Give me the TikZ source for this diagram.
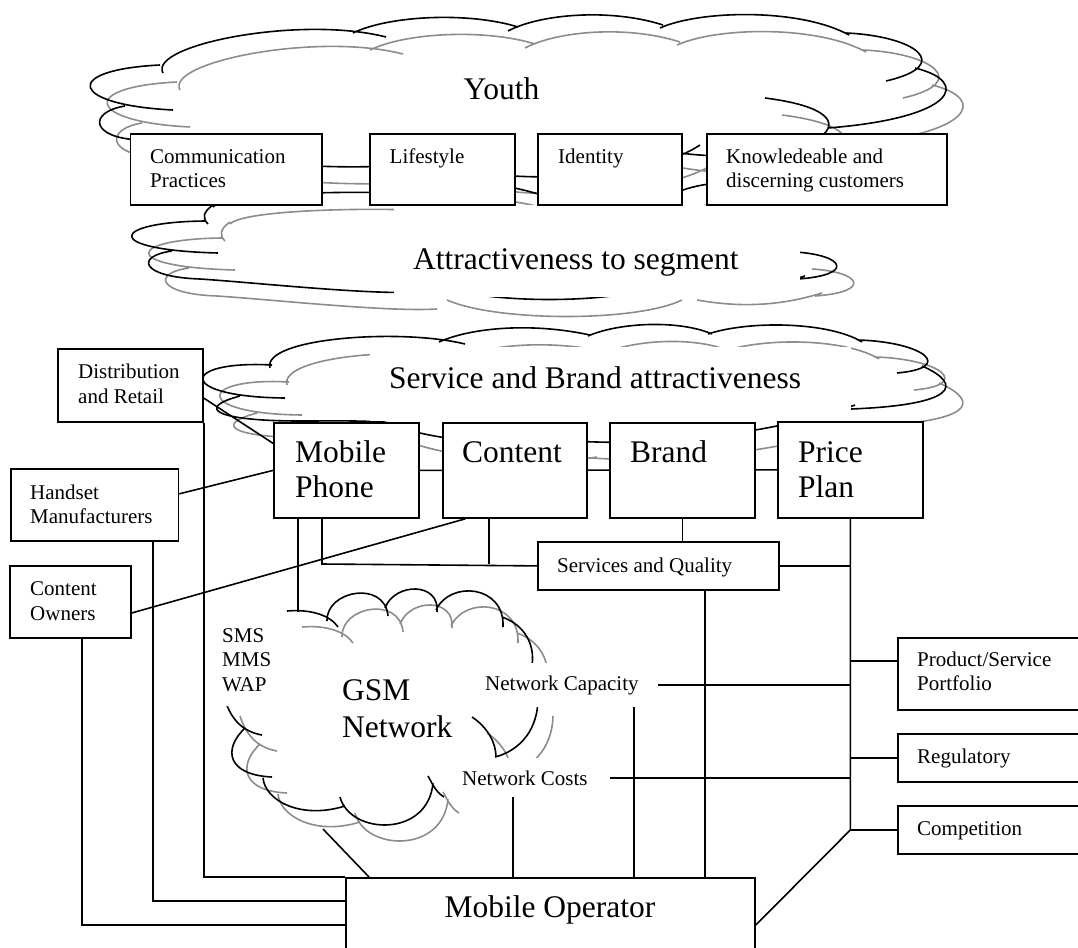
\documentclass[tikz,border=0pt]{standalone}
\usepackage{fontspec}
\setmainfont{Liberation Serif}
\usetikzlibrary{calc}

\tikzset{
  box/.style={draw, line width=1.8pt, fill=white, inner sep=0pt, anchor=north west},
  sm/.style={font=\fontsize{21}{24}\selectfont, anchor=base west, inner sep=0pt},
  big/.style={font=\fontsize{31.5}{35}\selectfont, anchor=base west, inner sep=0pt},
  link/.style={line width=1.6pt},
  cloudk/.style={line width=1.6pt, draw=black},
  cloudg/.style={line width=1.6pt, draw=black!45},
}

% box from top-left (#2,#3) to bottom-right (#4,#5)
\newcommand\mkbox[5]{\node[box, minimum width={#4-#2}, minimum height={#5-#3}] (#1) at (#2,#3) {};}

% cloud outlines, each as a set of bumps
\newcommand\youthcloud{
  (163,73) .. controls (148,45) and (300,15) .. (386,37)
  (353,33) .. controls (390,15) and (470,12) .. (518,27)
  (508,31) .. controls (540,14) and (610,8) .. (663,25)
  (660,28) .. controls (700,10) and (800,8) .. (849,35)
  (846,33) .. controls (915,36) and (955,65) .. (886,81)
  (915,68) .. controls (972,82) and (955,118) .. (828,128)
  (765,98) .. controls (900,115) and (800,175) .. (660,150)
  (700,145) .. controls (640,185) and (480,185) .. (420,158)
  (440,162) .. controls (330,175) and (200,160) .. (135,138)
  (125,106) .. controls (88,112) and (90,138) .. (140,140)
  (160,65) .. controls (60,70) and (70,105) .. (173,110)
}
\newcommand\attrcloud{
  (213,205) .. controls (203,212) and (202,218) .. (208,224)
  (205,221) .. controls (110,222) and (100,250) .. (218,253)
  (172,251) .. controls (135,256) and (140,277) .. (200,279)
            .. controls (260,283) and (370,295) .. (420,292)
  (665,283) .. controls (620,305) and (480,305) .. (430,283)
  (805,276) .. controls (760,290) and (720,290) .. (680,283)
  (795,252) .. controls (845,255) and (855,275) .. (798,279)
  (665,198) .. controls (700,178) and (770,172) .. (780,220)
  (400,200) .. controls (430,178) and (480,176) .. (545,196)
  (213,207) .. controls (230,190) and (400,190) .. (440,196)
}
\newcommand\servcloud{
  (270,368) .. controls (262,338) and (400,328) .. (465,344)
  (439,342) .. controls (470,328) and (530,322) .. (590,335)
  (588,336) .. controls (620,322) and (680,320) .. (712,334)
  (708,334) .. controls (750,320) and (830,322) .. (862,342)
  (858,340) .. controls (925,342) and (955,368) .. (897,373)
  (922,366) .. controls (965,385) and (955,405) .. (851,409)
  (855,405) .. controls (800,425) and (680,450) .. (560,440)
  (580,440) .. controls (520,450) and (420,440) .. (380,420)
  (240,396) .. controls (195,408) and (215,421) .. (300,421)
            .. controls (340,421) and (370,420) .. (400,424)
  (285,398) .. controls (175,397) and (180,360) .. (272,365)
}
\newcommand\gsmcloud{
  (287,611) .. controls (310,609) and (330,615) .. (338,627)
  (327,621) .. controls (326,590) and (385,580) .. (388,616)
  (385,608) .. controls (395,582) and (440,582) .. (437,612)
  (436,610) .. controls (450,580) and (505,585) .. (503,627)
  (502,617) .. controls (525,625) and (535,645) .. (532,665)
  (538,700) .. controls (537,735) and (515,752) .. (495,757)
  (472,717) .. controls (487,727) and (496,742) .. (496,757)
  (428,776) .. controls (433,785) and (436,792) .. (444,797)
  (340,797) .. controls (350,835) and (428,838) .. (433,783)
  (263,778) .. controls (265,800) and (300,820) .. (345,806)
  (245,728) .. controls (222,750) and (228,775) .. (272,777)
  (225,700) .. controls (232,722) and (245,732) .. (262,735)
}

\begin{document}
\begin{tikzpicture}[x=1pt,y=-1pt]
\useasboundingbox (0,0) rectangle (1078,947);
\clip (0,0) rectangle (1078,947);

% clouds: grey shadow first, then the black outline
\draw[cloudg, shift={(17,17)}] \youthcloud;
\draw[cloudk] \youthcloud;
\draw[cloudg, shift={(17,17)}] \attrcloud;
\draw[cloudk] \attrcloud;
\draw[cloudg, shift={(17,17)}] \servcloud;
\draw[cloudk] \servcloud;
\draw[cloudg, shift={(15,16)}] \gsmcloud;
\draw[cloudk] \gsmcloud;

% text areas of the clouds
\fill[white] (394,205) rectangle (800,297);
\fill[white] (370,347) rectangle (851,421);
\fill[white] (212,612) rectangle (296,706);

% boxes
\mkbox{comm}{129.5}{133}{321}{204}
\mkbox{life}{369}{133}{514}{204}
\mkbox{ident}{537}{133}{681}{204}
\mkbox{know}{706}{133}{946}{204}
\mkbox{dist}{57}{348}{202}{421}
\mkbox{hand}{10}{468}{177.5}{540}
\mkbox{mphone}{273}{422}{418}{517}
\mkbox{content}{442}{422}{586}{517}
\mkbox{brand}{609}{422}{754}{517}
\mkbox{price}{777}{421}{922}{517}
\mkbox{sq}{537}{541}{778}{589}
\mkbox{cowners}{9}{565}{130}{637}
\mkbox{prod}{897}{637}{1090}{709}
\mkbox{reg}{897}{733}{1090}{781}
\mkbox{comp}{897}{805}{1090}{853}
\mkbox{mop}{345}{877}{754}{970}

% labels inside the GSM cloud (white behind them)
\node[sm, fill=white, inner xsep=6pt, inner ysep=12pt] (netcap) at (479,690) {Network Capacity};
\node[sm, fill=white, inner xsep=6pt, inner ysep=12pt] (netcost) at (456,785) {Network Costs};

% connectors
\coordinate (xHand) at (153,901);
\coordinate (xCO) at (82,925);
\coordinate (xGT) at (298,612);
\coordinate (xMS) at (322,564);
\coordinate (xCS) at (489,564);
\coordinate (xNC) at (634,0);
\coordinate (xSQ) at (705,0);
\coordinate (xNK) at (513,0);
\coordinate (xGB) at (369,0);
\coordinate (gsmBot) at (323,829);
\coordinate (pp) at (897,661);

\draw[link] (dist.south east) |- (mop.north west);
\draw[link] (hand.south -| xHand) -- (xHand) -- (xHand -| mop.west);
\draw[link] (cowners.south -| xCO) -- (xCO) -- (xCO -| mop.west);
\draw[link] ($(dist.north east)!0.67!(dist.south east)$) -- ($(mphone.north west)!0.22!(mphone.south west)$);
\draw[link] ($(hand.north east)!0.35!(hand.south east)$) -- (mphone.west);
\draw[link] (mphone.south -| xGT) -- (xGT);
\draw[link] (mphone.south -| xMS) -- (xMS) -- (sq.west);
\draw[link] (content.south -| xCS) -- (xCS);
\draw[link] ($(content.south west)!0.16!(content.south east)$) -- ($(cowners.north east)!0.65!(cowners.south east)$);
\draw[link] (brand.south) -- (brand.south |- sq.north);
\draw[link] (sq.east) -- (sq.east -| price.south);
\draw[link] (price.south) -- (comp.west -| price.south) -- ($(mop.north east)+(0,48)$);
\draw[link] (comp.west -| price.south) -- (comp.west);
\draw[link] (reg.west -| price.south) -- (reg.west);
\draw[link] (pp -| price.south) -- (pp);
\draw[link] ([xshift=13pt]netcap.east) -- (netcap.east -| price.south);
\draw[link] (netcap.south -| xNC) -- (xNC |- mop.north);
\draw[link] ([xshift=16pt]netcost.east) -- (netcost.east -| price.south);
\draw[link] (netcost.south -| xNK) -- (xNK |- mop.north);
\draw[link] (sq.south -| xSQ) -- (xSQ |- mop.north);
\draw[link] (gsmBot) -- (xGB |- mop.north);

% link running behind the second row of boxes
\begin{scope}
\clip (418,0) rectangle (442,947) (586,0) rectangle (609,947) (754,0) rectangle (777,947);
\draw[link] (mphone.east) -- (price.west);
\end{scope}

% texts
\node[big] (youthT) at (463.5,100) {Youth};
\node[sm] (commA) at (150,163) {Communication};
\node[sm] (commB) at (150,187) {Practices};
\node[sm] (lifeT) at (389.5,163) {Lifestyle};
\node[sm] (identT) at (558,163) {Identity};
\node[sm] (knowA) at (726,163) {Knowledeable and};
\node[sm] (knowB) at (726,187) {discerning customers};
\node[big] (attrT) at (413,269) {Attractiveness to segment};
\node[big] (servT) at (389,388) {Service and Brand attractiveness};
\node[sm] (distA) at (78,378) {Distribution};
\node[sm] (distB) at (78,403) {and Retail};
\node[sm] (handA) at (30,499) {Handset};
\node[sm] (handB) at (30,523) {Manufacturers};
\node[big] (mphA) at (295,462) {Mobile};
\node[big] (mphB) at (295,497) {Phone};
\node[big] (contT) at (462,462) {Content};
\node[big] (brandT) at (630,462) {Brand};
\node[big] (priceA) at (798,462) {Price};
\node[big] (priceB) at (798,497) {Plan};
\node[sm] (sqT) at (557,572) {Services and Quality};
\node[sm] (coA) at (30,595) {Content};
\node[sm] (coB) at (30,620) {Owners};
\node[sm] (smsA) at (222,642) {SMS};
\node[sm] (smsB) at (222,666) {MMS};
\node[sm] (smsC) at (222,691) {WAP};
\node[big] (gsmA) at (342,700) {GSM};
\node[big] (gsmB) at (342,737) {Network};
\node[sm] (prodA) at (917,666) {Product/Service};
\node[sm] (prodB) at (917,690) {Portfolio};
\node[sm] (regT) at (917,763) {Regulatory};
\node[sm] (compT) at (917,835) {Competition};
\node[big, anchor=base] (mopT) at (550,917) {Mobile Operator};
\end{tikzpicture}
\end{document}
